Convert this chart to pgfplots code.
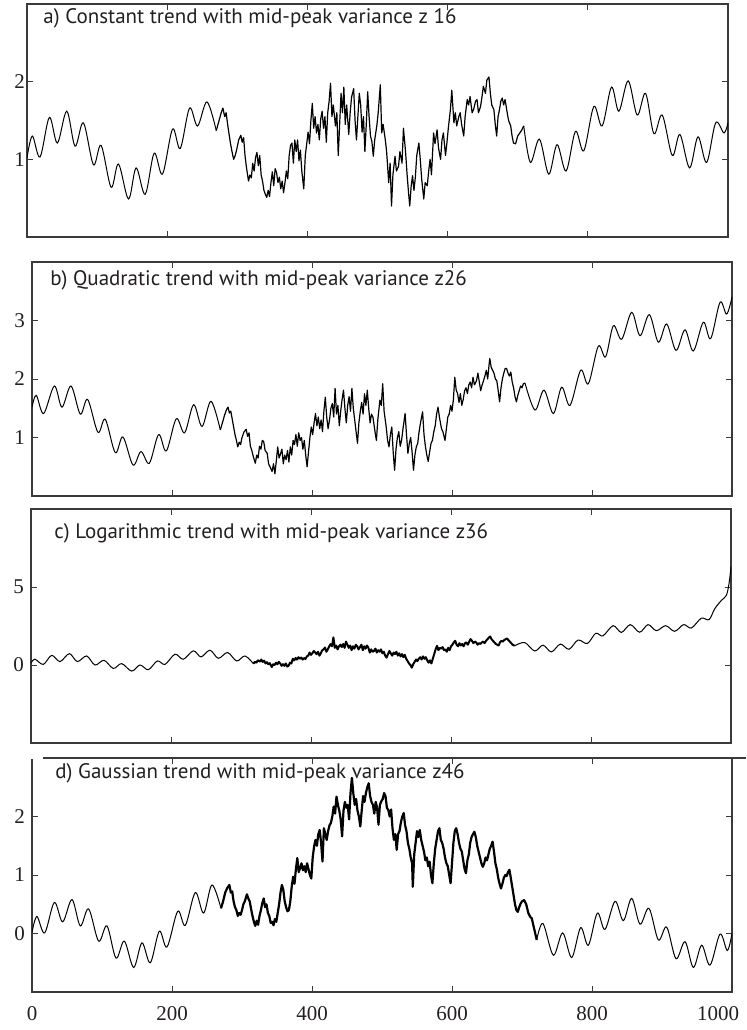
\documentclass[border=0pt]{standalone}
\usepackage{fontspec}
\setmainfont{Liberation Serif}
\newfontfamily\titlefont{PT Sans}
\usepackage{pgfplots}
\pgfplotsset{compat=1.18}
\definecolor{axgray}{HTML}{3A3A3A}
\definecolor{txt}{HTML}{231F20}
\pgfplotsset{
  panel/.style={scale only axis, width=350pt, height=117pt, xmin=0, xmax=1000,
    xtick={200,400,600,800}, xticklabels={},
    tick align=inside, major tick length=3pt,
    axis line style={draw=axgray, line width=0.6pt},
    every tick/.style={draw=axgray, line width=0.5pt},
    ticklabel style={font=\fontsize{10.5}{12}\selectfont, text=txt},
    /pgf/number format/assume math mode=true},
  sm/.style={smooth, tension=0.55, black, line width=0.5pt, no markers},
  nz/.style={sharp plot, black, line width=0.6pt, line join=round, no markers},
}
\tikzset{ttl/.style={anchor=west, inner sep=0pt, font=\titlefont\fontsize{10.5}{12}\selectfont, text=txt}}
\begin{document}
\begin{tikzpicture}
\useasboundingbox (0,0) rectangle (373pt,-515pt);
% ---------------- a ----------------
\begin{axis}[panel, at={(13.5pt,-118.5pt)}, anchor=south west, width=350.5pt, height=116.5pt,
  ymin=0, ymax=3, ytick={1,2}, yticklabel style={xshift=2.5pt}]
\addplot[sm] coordinates {(0,1.02)(7.6,1.30)(18.6,1.03)(31.9,1.54)(43.3,1.21)(56.7,1.62)(68.6,1.17)(80.5,1.47)(94.8,0.93)(105.7,1.18)(120,0.64)(130.5,0.94)(144.8,0.49)(155.7,0.89)(168.6,0.55)(181.4,1.08)(193.3,0.81)(207.6,1.39)(218.6,1.14)(231.9,1.66)(243.3,1.43)(256.7,1.74)(270,1.37)};
\addplot[nz] coordinates {(270,1.37)(274,1.50)(277,1.60)(279.5,1.66)(282,1.55)(284,1.60)(287,1.40)(290,1.22)(292,1.12)(294.8,1.00)(297,1.05)(299,1.12)(302,1.25)(305,1.31)(307,1.22)(309,1.28)(311,1.05)(313,0.90)(316,0.72)(318,0.80)(320,0.76)(322,0.95)(324,0.85)(326,1.02)(328,1.09)(330,0.92)(332,1.05)(334,0.80)(336,0.72)(338,0.60)(340,0.55)(342,0.51)(344,0.60)(346,0.52)(348,0.70)(350,0.84)(352,0.66)(354,0.88)(356,0.83)(358,0.70)(360,0.77)(362,0.62)(364,0.72)(366,0.57)(368,0.70)(370,0.85)(372,0.75)(374,1.05)(376,1.18)(378,1.21)(380,0.95)(382,1.25)(384,1.10)(386,1.25)(388,0.98)(390,1.12)(392,0.85)(394.8,0.62)(397,1.05)(399,1.20)(401,1.35)(403,1.20)(405,1.50)(407,1.72)(409,1.40)(411,1.55)(413,1.34)(415,1.45)(417,1.25)(419,1.52)(421,1.62)(423,1.40)(425,1.55)(427,1.22)(429,1.60)(431,1.75)(433,1.98)(435,1.55)(437,1.70)(440,1.43)(442,1.60)(444,1.05)(446,1.45)(448,1.85)(450,1.60)(452,1.93)(454,1.45)(456,1.70)(459,1.32)(461,1.60)(463,1.80)(466,1.91)(468,1.50)(470,1.25)(472,1.55)(474,1.85)(476,1.70)(478,1.35)(480,1.55)(482,1.10)(484,1.45)(486,1.87)(488,1.55)(490,1.30)(492,1.23)(494,1.04)(496,1.25)(499,1.43)(501,1.60)(504,1.96)(506,1.34)(508,1.45)(511,1.26)(513,1.10)(516,0.70)(518,0.95)(520,0.40)(522,0.80)(525,1.04)(527,0.85)(530,0.91)(532,1.10)(535,0.95)(537,1.40)(540,1.10)(542,0.83)(544,0.60)(546,0.40)(548,0.65)(550,0.79)(552,0.60)(554,0.77)(556,1.05)(559,1.21)(561,1.00)(563,0.75)(566,0.49)(568,0.70)(571,0.66)(573,0.85)(575,1.00)(577,0.80)(580,1.34)(582,1.20)(585,1.38)(587,1.15)(590,1.00)(592,1.25)(594,1.34)(597,1.05)(599,1.21)(601,1.40)(604,1.64)(606,1.89)(609,1.47)(611,1.60)(613,1.43)(616,1.55)(618,1.60)(620,1.45)(623,1.30)(625,1.55)(628,1.77)(630,1.70)(632,1.81)(635,1.60)(637,1.64)(640,1.75)(642,1.77)(644,1.60)(647,1.68)(649,1.80)(651,1.94)(654,1.85)(656,2.02)(659,2.06)(661,1.85)(663,1.70)(666,1.64)(668,1.45)(670,1.30)(672,1.55)(674,1.64)(676,1.75)(678,1.79)(680,1.70)(682,1.77)(685,1.60)(687,1.50)(690,1.43)(692,1.30)(694,1.21)(697,1.20)(700,1.30)(703,1.34)(706,1.38)(708.6,1.43)};
\addplot[sm] coordinates {(708.6,1.43)(718.1,0.96)(731,1.26)(744.3,0.81)(756.2,1.19)(769,0.85)(782.4,1.36)(794.3,1.11)(808.6,1.68)(820.5,1.43)(833.8,1.93)(844.3,1.62)(857.6,2.01)(870.5,1.57)(882.4,1.85)(894.3,1.33)(906.2,1.57)(920.5,1.05)(931.4,1.32)(945.2,0.89)(957.2,1.29)(969.5,0.96)(982.4,1.47)(994.3,1.34)(1000,1.47)};
\node[ttl] at (rel axis cs:0.0228,0.94) {a) Constant trend with mid-peak variance z 16};
\end{axis}
% ---------------- b ----------------
\begin{axis}[panel, at={(16pt,-248pt)}, anchor=south west,
  ymin=0, ymax=4, ytick={1,2,3}]
\addplot[sm] coordinates {(0,1.52)(6.1,1.72)(16.6,1.41)(31.9,1.88)(42.8,1.52)(55.7,1.88)(69,1.40)(79.5,1.65)(94.2,1.09)(104.7,1.31)(119,0.74)(129.9,1.01)(144.3,0.53)(155.7,0.76)(167.6,0.56)(180.9,1.05)(191.9,0.77)(206.1,1.32)(218,1.08)(230.9,1.56)(242.9,1.19)(255.7,1.62)(269,1.13)};
\addplot[nz] coordinates {(269,1.13)(272,1.25)(275,1.38)(278,1.48)(280,1.52)(282,1.42)(284,1.45)(287,1.25)(290,1.05)(292,0.95)(294,0.84)(296,0.92)(298,0.88)(300,1.00)(303,1.10)(306,1.14)(308,1.02)(310,1.08)(312,0.85)(314,0.78)(316,0.68)(319,0.56)(321,0.70)(323,0.65)(325,0.85)(327,0.80)(329,0.95)(331,0.93)(333,0.78)(336,0.73)(338,0.55)(340,0.50)(343,0.42)(345,0.55)(347,0.38)(349,0.60)(351,0.84)(353,0.65)(355,0.72)(357,0.80)(359,0.55)(361,0.70)(363,0.62)(365,0.78)(367,0.58)(369,0.84)(371,0.70)(373,0.95)(375,0.88)(377,1.05)(379,0.85)(381,1.08)(383,0.95)(385,1.00)(387,0.80)(389,0.95)(391,0.70)(393,0.50)(395,0.75)(397,1.00)(399,1.18)(401,1.05)(403,1.25)(405,1.41)(407,1.20)(409,1.35)(411,1.15)(413,1.30)(415,1.10)(417,1.45)(419,1.69)(421,1.35)(423,1.15)(425,1.30)(427,1.50)(429,1.58)(431,1.35)(433,1.84)(435,1.40)(437,1.55)(439,1.20)(441,1.45)(443,1.65)(445,1.81)(447,1.50)(449,1.25)(451,1.55)(453,1.70)(455,1.45)(457,1.84)(459,1.50)(461,1.30)(463,1.10)(465,0.90)(467,1.25)(469,1.45)(471,1.60)(473,1.40)(475,1.75)(477,1.55)(479,1.81)(481,1.50)(483,1.25)(485,1.40)(487,1.35)(490,1.10)(492,0.95)(494,1.30)(497,1.64)(499,1.55)(501,1.92)(503,1.45)(506,1.18)(508,0.95)(510,0.84)(512,1.05)(514,1.18)(516,0.75)(518,0.44)(520,0.80)(522,1.00)(524,1.10)(526,0.85)(528,0.95)(530,1.15)(533,1.41)(535,1.05)(537,0.73)(539,0.90)(541,1.00)(543,0.75)(545,0.44)(547,0.70)(549,0.84)(551,0.90)(553,1.10)(555,1.25)(558,1.44)(560,1.05)(562,0.85)(564,0.70)(566,0.59)(568,0.75)(570,0.90)(572,0.95)(574,1.10)(576,1.20)(578,1.40)(580,1.52)(582,1.35)(585,1.15)(587,1.10)(590,0.95)(592,1.15)(594,1.35)(596,1.40)(598,1.55)(600,1.45)(602,1.65)(604,2.03)(606,1.81)(608,1.75)(610,1.60)(612,1.75)(614,1.55)(616,1.65)(618,1.80)(620,1.85)(622,1.75)(624,1.90)(626,1.95)(628,1.85)(630,2.03)(632,1.90)(635,1.97)(637,2.10)(639,1.95)(641,1.80)(643,1.90)(645,1.97)(647,2.05)(649,2.15)(651,2.00)(653,2.25)(654,2.35)(656,2.20)(658,2.15)(660,2.10)(662,2.00)(664,1.97)(666,1.80)(668,1.61)(670,1.85)(672,2.00)(674,2.10)(676,2.18)(678,2.18)(680,2.10)(682,2.05)(684,2.12)(686,1.95)(688,1.85)(690,1.70)(692,1.61)(694,1.72)(696,1.80)(698,1.88)(700,1.85)(702,1.92)(704.3,1.93)};
\addplot[sm] coordinates {(704.3,1.93)(718.5,1.47)(731.4,1.81)(744.8,1.41)(756.7,1.86)(768.6,1.55)(783.8,2.15)(794.8,1.92)(809,2.56)(819.5,2.38)(830.5,2.91)(842.4,2.68)(856.7,3.14)(868.6,2.74)(881.9,3.10)(894.8,2.63)(906.7,2.94)(920,2.49)(932.8,2.84)(944.8,2.48)(959,2.97)(969.5,2.69)(982.9,3.31)(992.4,3.11)(1000,3.40)};
\node[ttl] at (rel axis cs:0.0257,0.923) {b) Quadratic trend with mid-peak variance z26};
\end{axis}
% ---------------- c ----------------
\begin{axis}[panel, at={(15.5pt,-371.5pt)}, anchor=south west,
  ymin=-5, ymax=10, ytick={0,5}]
\addplot[sm] coordinates {(0,0.12)(5.7,0.37)(17.6,0.04)(29.5,0.62)(41.4,0.22)(54.8,0.73)(66.2,0.22)(79.5,0.58)(91.4,0.0)(104.3,0.30)(117.6,-0.22)(129.5,0.09)(143.8,-0.39)(155.7,0.0)(167.6,-0.30)(180.5,0.26)(191.4,0.04)(205.7,0.69)(217.6,0.37)(231.9,0.91)(242.9,0.52)(255.7,0.95)(267.6,0.43)(280.9,0.80)(293.8,0.26)(305.7,0.58)(317.6,0.09)};
\addplot[nz, line width=1.0pt] coordinates {(317.6,0.09)(320,0.20)(322,0.15)(324,0.30)(327,0.22)(329,0.35)(331,0.20)(333,0.28)(335,0.10)(337,0.18)(339,0.05)(341,0.12)(344,-0.13)(346,0.05)(348,0.00)(350,0.15)(352,0.05)(354,0.20)(356,0.10)(358,-0.05)(360,0.05)(362,-0.05)(364,0.10)(366,-0.10)(368,-0.05)(370,0.15)(372,0.10)(374,0.40)(376,0.30)(378,0.45)(380,0.35)(382,0.50)(384,0.40)(386,0.48)(388,0.35)(390,0.45)(392,0.38)(394,0.55)(396,0.60)(398,0.80)(400,0.65)(402,0.75)(404,0.90)(406,0.80)(408,0.70)(410,0.85)(412,0.60)(414,0.75)(416,0.95)(418,1.00)(420,1.12)(422,0.85)(424,1.00)(426,1.20)(428,1.34)(430,1.20)(432,1.77)(434,1.10)(436,1.25)(438,1.00)(440,1.20)(442,1.30)(444,1.15)(446,1.35)(448,1.10)(450,1.50)(452,1.30)(454,1.10)(456,1.25)(458,0.95)(460,1.20)(462,1.05)(464,1.30)(466,1.20)(468,1.00)(470,1.15)(472,1.30)(474,0.95)(476,1.20)(478,1.05)(480,1.25)(482,1.10)(484,0.80)(486,1.00)(488,0.85)(490,0.90)(492,1.05)(494,0.80)(496,0.95)(498,0.85)(500,1.00)(502,0.75)(504,0.85)(506,0.60)(508,0.47)(510,0.70)(512,0.90)(514,0.75)(516,0.60)(518,0.80)(520,0.70)(522,0.85)(524,0.60)(526,0.75)(528,0.55)(530,0.70)(532,0.50)(534,0.65)(536,0.40)(538,0.25)(540,0.10)(542,0.00)(544,-0.17)(546,0.05)(548,0.20)(550,0.35)(552,0.25)(554,0.40)(556,0.50)(558,0.35)(560,0.55)(562,0.40)(564,0.50)(566,0.30)(568,0.15)(570,0.30)(572,0.10)(574,0.40)(576,0.70)(578,1.00)(580,1.23)(582,0.95)(584,1.10)(586,1.05)(588,1.15)(590,0.95)(592,1.00)(594,0.85)(596,1.10)(598,0.95)(600,1.20)(602,1.30)(604,1.45)(606,1.55)(608,1.30)(610,1.20)(612,1.40)(614,1.25)(616,1.35)(618,1.20)(620,1.40)(622,1.45)(624,1.30)(626,1.50)(628,1.66)(630,1.55)(632,1.40)(634,1.50)(636,1.45)(638,1.30)(640,1.40)(642,1.35)(644,1.45)(646,1.50)(648,1.40)(650,1.55)(652,1.65)(654,1.75)(656,1.83)(658,1.65)(660,1.55)(662,1.45)(664,1.35)(666,1.30)(668,1.25)(670,1.45)(672,1.55)(674,1.50)(676,1.60)(678,1.65)(680,1.70)(682,1.60)(684,1.50)(686,1.40)(688,1.30)(691,1.23)};
\addplot[sm] coordinates {(691,1.23)(705.3,1.44)(719.5,0.90)(731.5,1.27)(743.4,0.84)(756.2,1.34)(768.6,1.01)(781.5,1.60)(794.8,1.38)(806.7,2.03)(817.1,1.87)(831.5,2.52)(843.4,2.09)(856.2,2.59)(869.5,2.10)(881.5,2.59)(893.4,2.20)(906.7,2.52)(919.5,2.16)(932.4,2.59)(943.4,2.37)(957.6,3.00)(968.6,2.91)(976.7,3.60)(986.2,4.14)(993.3,4.46)(997.1,5.20)(1000,6.30)};
\node[ttl] at (rel axis cs:0.0329,0.897) {c) Logarithmic trend with mid-peak variance z36};
\end{axis}
% ---------------- d ----------------
\begin{axis}[panel, name=d, at={(16pt,-496pt)}, anchor=south west,
  ymin=-1, ymax=3, ytick={0,1,2},
  xtick={0,200,400,600,800,1000}, xticklabels={0,200,400,600,800,{1000\kern14pt}},
  xticklabel style={yshift=-3.8pt}]
\addplot[sm] coordinates {(0,0.02)(7,0.29)(18.1,0.01)(31.9,0.53)(43.8,0.20)(57.1,0.58)(69,0.13)(80.9,0.42)(95.2,-0.13)(107.1,0.13)(120,-0.42)(131.9,-0.13)(145.2,-0.58)(157.1,-0.16)(169,-0.50)(181.9,0.04)(192.9,-0.23)(208.1,0.38)(219,0.14)(233.3,0.70)(245.2,0.35)(257.1,0.83)(270,0.43)};
\addplot[nz, line width=1.1pt] coordinates {(270,0.43)(273,0.55)(276,0.70)(279,0.78)(282,0.83)(284,0.70)(286,0.72)(288,0.55)(290,0.45)(292,0.40)(294,0.30)(296,0.35)(298,0.32)(300,0.40)(302,0.50)(304,0.55)(307,0.67)(309,0.60)(311,0.55)(313,0.42)(315,0.30)(317,0.20)(319,0.13)(321,0.22)(323,0.15)(325,0.30)(327,0.40)(329,0.52)(331,0.60)(333,0.45)(335,0.50)(337,0.35)(339,0.30)(341,0.18)(343,0.20)(345,0.14)(347,0.25)(349,0.20)(351,0.35)(353,0.50)(355,0.70)(357,0.83)(359,0.75)(361,0.55)(363,0.45)(365,0.38)(367,0.40)(369,0.55)(371,0.80)(373,0.97)(375,0.85)(377,1.10)(379,1.29)(381,1.05)(383,1.12)(385,1.20)(387,1.08)(389,1.15)(391,1.05)(393,1.20)(395,1.10)(397,1.00)(399,0.94)(401,1.30)(403,1.49)(405,1.60)(407,1.50)(409,1.70)(411,1.77)(413,1.55)(415,1.23)(417,1.80)(419,1.70)(421,1.60)(423,1.75)(425,1.85)(427,1.89)(429,2.00)(431,2.17)(433,2.05)(435,2.34)(437,2.20)(439,2.10)(441,1.95)(443,1.66)(445,2.10)(447,2.25)(449,2.15)(451,2.20)(453,1.95)(455,2.40)(457,2.66)(459,2.40)(461,2.20)(463,2.30)(465,2.10)(467,2.00)(469,1.83)(471,2.10)(473,2.35)(475,2.25)(477,2.40)(479,2.50)(481,2.57)(483,2.35)(485,2.25)(487,2.20)(489,2.05)(491,2.25)(493,2.15)(495,1.86)(497,2.20)(499,2.26)(501,2.30)(503,2.40)(505,2.35)(507,2.15)(509,2.11)(511,2.00)(513,2.12)(515,1.80)(517,1.60)(519,1.70)(521,1.43)(523,1.70)(525,1.75)(527,1.90)(529,2.00)(531,2.06)(533,1.85)(535,1.75)(537,1.55)(539,1.45)(541,1.30)(543,1.20)(544,0.80)(546,1.35)(548,1.55)(550,1.75)(552,1.65)(554,1.77)(556,1.60)(558,1.50)(560,1.40)(562,1.25)(564,1.30)(566,1.15)(568,1.23)(570,1.00)(572,0.86)(574,1.20)(576,1.45)(578,1.60)(580,1.75)(582,1.80)(584,1.60)(586,1.55)(588,1.45)(590,1.30)(592,1.20)(594,1.15)(596,1.00)(598,0.86)(600,1.20)(602,1.55)(604,1.75)(606,1.80)(608,1.70)(610,1.55)(612,1.45)(614,1.40)(616,1.25)(618,1.10)(620,1.03)(622,1.25)(624,1.35)(626,1.55)(628,1.65)(630,1.70)(632,1.74)(634,1.65)(636,1.50)(638,1.40)(640,1.30)(642,1.20)(644,1.14)(646,1.20)(648,1.30)(650,1.25)(652,1.35)(654,1.45)(656,1.50)(658,1.57)(660,1.40)(662,1.20)(664,1.10)(666,0.95)(668,0.85)(670,0.77)(672,0.85)(674,0.95)(676,1.00)(678,0.98)(680,1.05)(682,1.09)(684,0.95)(686,0.80)(688,0.65)(690,0.50)(692,0.40)(694,0.37)(696,0.45)(698,0.51)(700,0.55)(703,0.57)(706,0.50)(709,0.35)(712,0.28)(714,0.26)(716,0.15)(718,0.05)(721,-0.11)};
\addplot[sm] coordinates {(721,-0.11)(730,0.17)(744.8,-0.37)(758.1,0.01)(771,-0.41)(783.8,0.10)(794.8,-0.20)(807.6,0.35)(818.5,0.07)(832.9,0.55)(844.8,0.22)(856.7,0.60)(868.6,0.16)(881.4,0.43)(894.8,-0.11)(906.7,0.11)(920,-0.43)(932.9,-0.14)(944.8,-0.58)(956.7,-0.20)(968.6,-0.54)(982.9,-0.01)(993.3,-0.29)(1000,0.0)};
\node[ttl] at (rel axis cs:0.0329,0.936) {d) Gaussian trend with mid-peak variance z46};
\end{axis}
\draw[white, line width=1.4pt] ([xshift=-0.5pt]d.north west) -- ++(6pt,0);
\draw[axgray, line width=0.6pt] (d.north east) -- ++(7pt,0);
\end{tikzpicture}
\end{document}
